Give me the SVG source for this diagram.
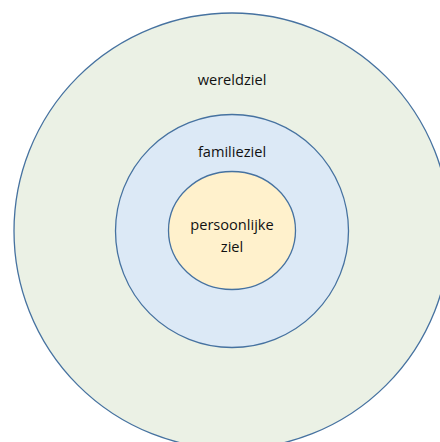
<svg xmlns="http://www.w3.org/2000/svg" width="440" height="442" viewBox="0 0 440 442">
<style>
.ring{stroke:#4672A0;stroke-width:1.3}
.lbl{font-family:"Open Sans","Liberation Sans",sans-serif;font-size:14.6px;fill:#111111;text-anchor:middle}
</style>
<rect width="440" height="442" fill="#ffffff"/>
<g id="wereldziel">
<circle class="ring" cx="232" cy="231" r="218" fill="#EBF1E5"/>
<text class="lbl" x="232" y="85">wereldziel</text>
</g>
<g id="familieziel">
<circle class="ring" cx="232" cy="231" r="116.5" fill="#DCE9F6"/>
<text class="lbl" x="232" y="157">familieziel</text>
</g>
<g id="persoonlijke-ziel">
<ellipse class="ring" cx="232" cy="230.5" rx="63.5" ry="59" fill="#FFF1CC"/>
<text class="lbl" x="232" y="229.5">persoonlijke</text>
<text class="lbl" x="232" y="252">ziel</text>
</g>
<g id="connectors"></g>
</svg>
